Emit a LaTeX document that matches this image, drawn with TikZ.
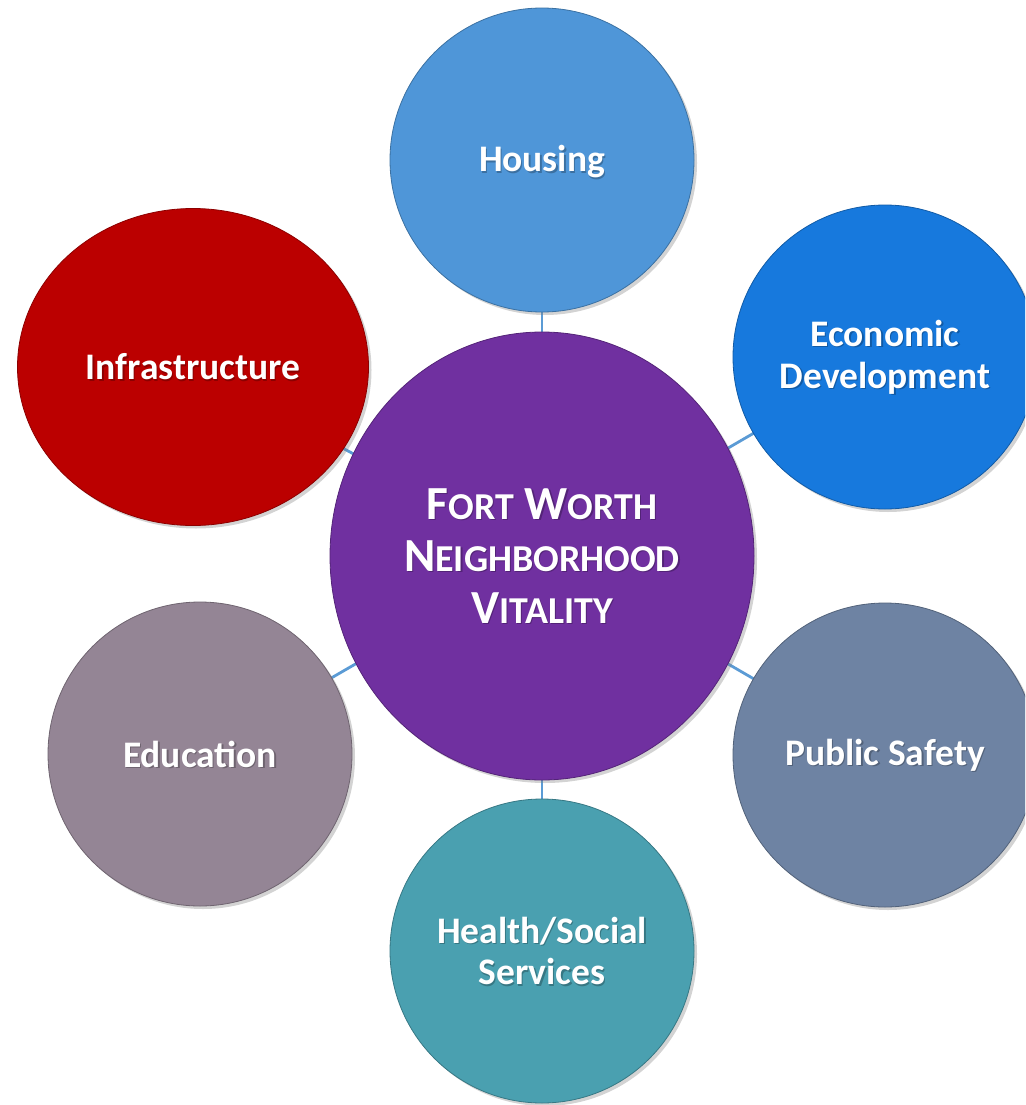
\documentclass[tikz,border=0pt]{standalone}
\usepackage{fontspec}
\setmainfont{Carlito}
\usetikzlibrary{shapes.geometric,shadows}
\definecolor{cHouse}{HTML}{4F96D8}
\definecolor{cEcon}{HTML}{1779DD}
\definecolor{cSafe}{HTML}{6E83A3}
\definecolor{cHealth}{HTML}{4AA0B0}
\definecolor{cEdu}{HTML}{948595}
\definecolor{cInfra}{HTML}{BB0000}
\definecolor{cCenter}{HTML}{7030A0}
\definecolor{cLink}{HTML}{5B9BD5}
\newcommand{\mysc}[2]{{\fontsize{47.5}{57}\selectfont #1}{\fontsize{38}{57}\selectfont #2}}
\newcommand{\lbl}[4]{%
  \node[#4, text=black, opacity=0.25] (#1s) at ([shift={(1.3,1.3)}]#2) {#3};
  \node[#4, text=white] (#1) at (#2) {#3};}
\tikzset{
  bubble/.style={circle, inner sep=0pt, minimum size=304pt, draw=#1!75!black, line width=0.8pt, fill=#1,
    drop shadow={opacity=0.35, shadow xshift=3pt, shadow yshift=-3pt}},
  oval/.style={ellipse, inner sep=0pt, draw=#1!75!black, line width=0.8pt, fill=#1,
    drop shadow={opacity=0.35, shadow xshift=3pt, shadow yshift=-3pt}},
  txt/.style={align=center, inner sep=0pt, font=\bfseries\fontsize{37.5}{41.7}\selectfont},
  ctxt/.style={align=center, inner sep=0pt, font=\bfseries\fontsize{47.5}{52}\selectfont},
  link/.style={draw=cLink, line width=2.8pt}
}
\begin{document}
\begin{tikzpicture}[x=1pt,y=-1pt]
\useasboundingbox (0,0) rectangle (1025,1105);
\clip (0,0) rectangle (1025,1105);
\coordinate (cc) at (542,556);
\coordinate (hc) at (542,160);
\coordinate (ec) at (885,357);
\coordinate (pc) at (885,755);
\coordinate (sc) at (542,951);
\coordinate (dc) at (200,754);
\coordinate (ic) at (193,367);
\foreach \t in {hc,ec,pc,sc,dc,ic} \draw[link] (cc) -- (\t);
% outer bubbles
\node[bubble=cHouse] (house) at (hc) {};
\node[bubble=cEcon] (econ) at (ec) {};
\node[bubble=cSafe] (safe) at (pc) {};
\node[bubble=cHealth] (health) at (sc) {};
\node[bubble=cEdu] (edu) at (dc) {};
\node[oval=cInfra, minimum width=351pt, minimum height=317pt] (infra) at (ic) {};
\node[oval=cCenter, minimum width=424pt, minimum height=448pt] (center) at (cc) {};
% labels
\coordinate (hl) at (542,162);
\lbl{thouse}{hl}{Housing}{txt}
\lbl{tecon}{ec}{Economic\\Development}{txt}
\lbl{tsafe}{pc}{Public Safety}{txt}
\lbl{thealth}{sc}{Health/Social\\Services}{txt}
\lbl{tedu}{dc}{Education}{txt}
\lbl{tinfra}{ic}{Infrastructure}{txt}
\lbl{tcenter}{cc}{\mysc{F}{ORT} \mysc{W}{ORTH}\\\mysc{N}{EIGHBORHOOD}\\\mysc{V}{ITALITY}}{ctxt}
\end{tikzpicture}
\end{document}
